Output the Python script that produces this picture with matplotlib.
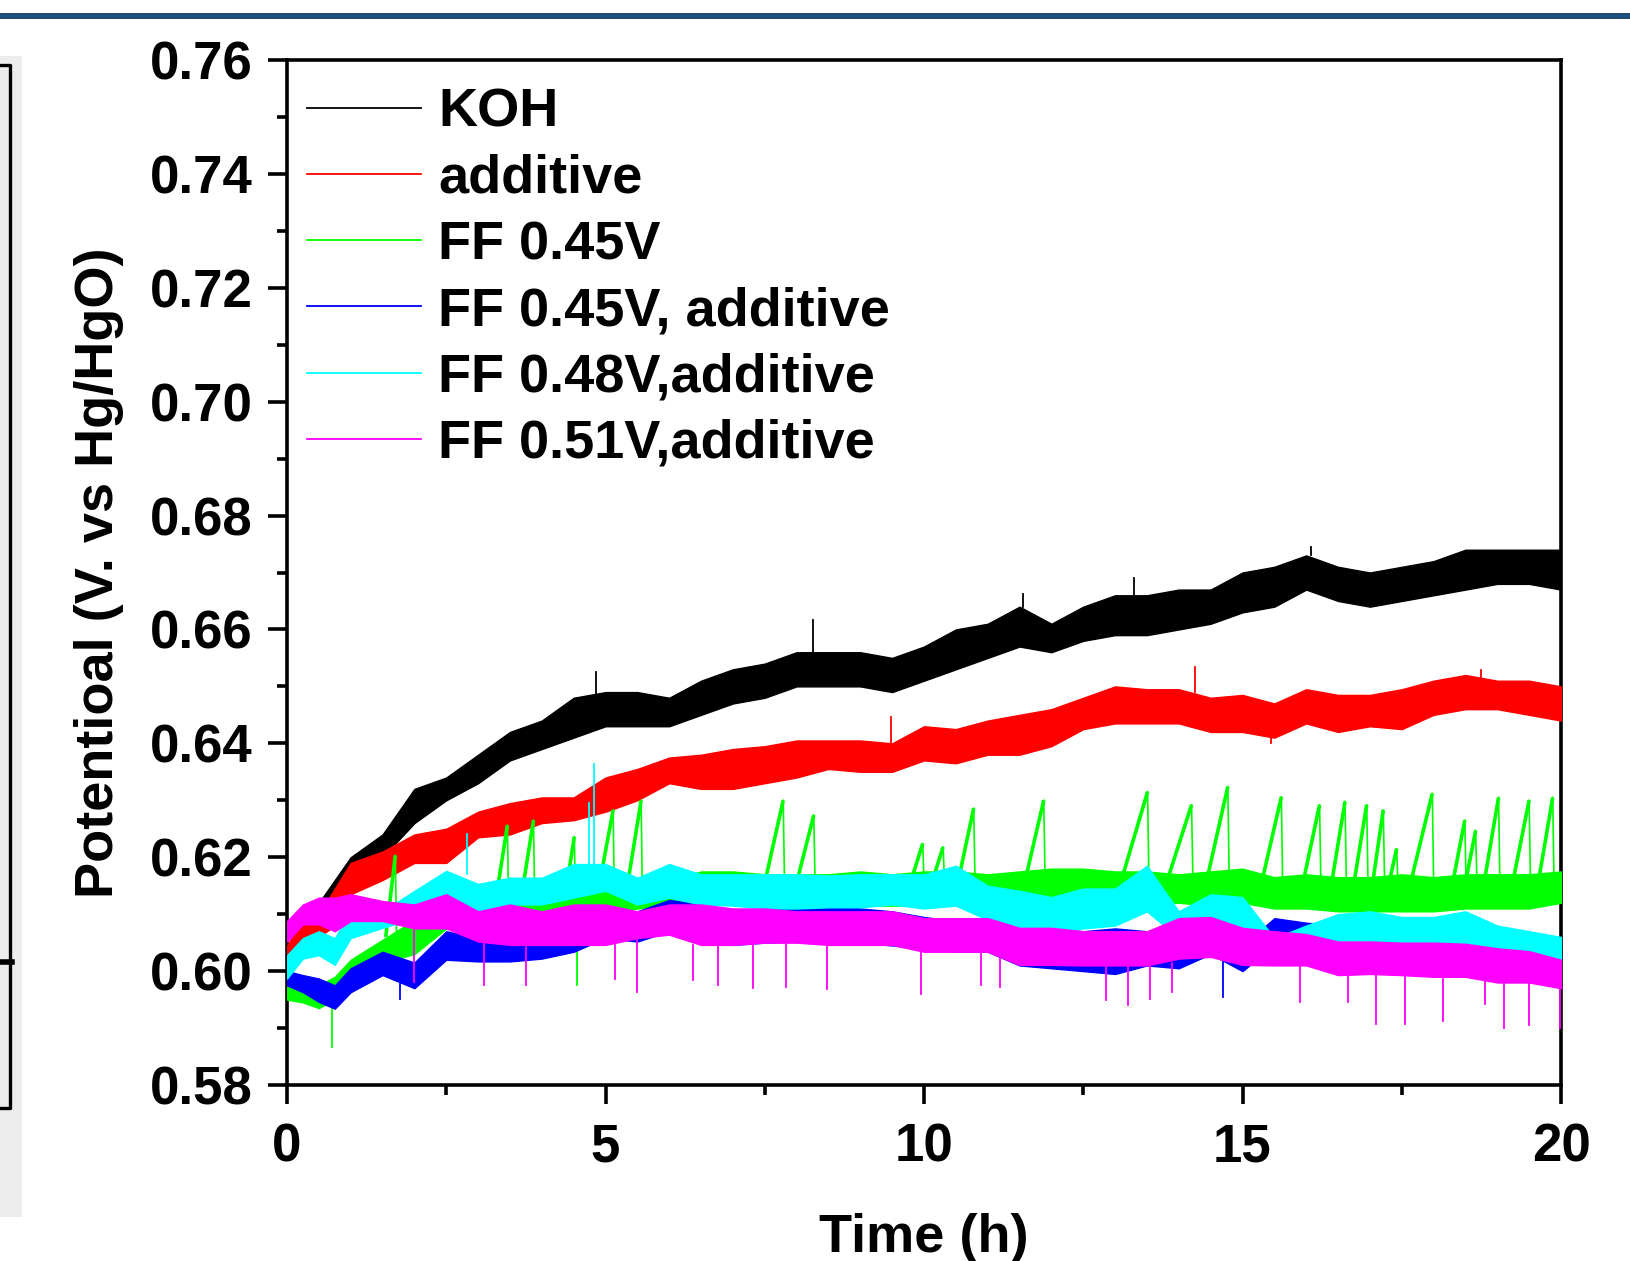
import matplotlib
matplotlib.use("Agg")
import matplotlib.pyplot as plt
from matplotlib.lines import Line2D
from matplotlib.patches import Rectangle
from matplotlib.ticker import MultipleLocator, FormatStrFormatter

plt.rcParams['font.family'] = ['Liberation Sans', 'DejaVu Sans']
plt.rcParams['font.weight'] = 'bold'

# ---------------- data ----------------
labels = ["KOH", "additive", "FF 0.45V", "FF 0.45V, additive",
          "FF 0.48V,additive", "FF 0.51V,additive"]
colors = ["#000000", "#ff0000", "#00ff00", "#0000ff", "#00ffff", "#ff00ff"]

time_h = [0, 0.25, 0.5, 0.75, 1.0, 1.5, 2.0, 2.5, 3.0, 3.5, 4.0, 4.5, 5.0, 5.5,
          6.0, 6.5, 7.0, 7.5, 8.0, 8.5, 9.0, 9.5, 10.0, 10.5, 11.0, 11.5, 12.0,
          12.5, 13.0, 13.5, 14.0, 14.5, 15.0, 15.5, 16.0, 16.5, 17.0, 17.5, 18.0,
          18.5, 19.0, 19.5, 20.0]

# lower / upper edges of the noise band of each trace
koh_lo = [0.600, 0.603, 0.607, 0.611, 0.617, 0.620, 0.626, 0.630, 0.633, 0.637, 0.639,
          0.641, 0.643, 0.643, 0.643, 0.645, 0.647, 0.648, 0.650, 0.650, 0.650, 0.649,
          0.651, 0.653, 0.655, 0.657, 0.656, 0.658, 0.659, 0.659, 0.660, 0.661, 0.663,
          0.664, 0.667, 0.665, 0.664, 0.665, 0.666, 0.667, 0.668, 0.668, 0.667]
koh_hi = [0.604, 0.608, 0.612, 0.616, 0.620, 0.624, 0.632, 0.634, 0.638, 0.642, 0.644,
          0.648, 0.649, 0.649, 0.648, 0.651, 0.653, 0.654, 0.656, 0.656, 0.656, 0.655,
          0.657, 0.660, 0.661, 0.664, 0.661, 0.664, 0.666, 0.666, 0.667, 0.667, 0.670,
          0.671, 0.673, 0.671, 0.670, 0.671, 0.672, 0.674, 0.674, 0.674, 0.674]

add_lo = [0.6025, 0.6055, 0.606, 0.608, 0.6135, 0.616, 0.619, 0.619, 0.6235, 0.624,
          0.626, 0.6265, 0.628, 0.630, 0.633, 0.632, 0.632, 0.633, 0.634, 0.6355, 0.635,
          0.635, 0.637, 0.6365, 0.638, 0.638, 0.6395, 0.6425, 0.6435, 0.6435, 0.6435,
          0.642, 0.642, 0.641, 0.6435, 0.642, 0.643, 0.6425, 0.645, 0.646, 0.646, 0.645,
          0.644]
add_hi = [0.6045, 0.609, 0.610, 0.6145, 0.619, 0.621, 0.624, 0.625, 0.628, 0.6295,
          0.6305, 0.6305, 0.634, 0.6355, 0.6375, 0.638, 0.639, 0.6395, 0.6405, 0.6405,
          0.6405, 0.640, 0.643, 0.6425, 0.644, 0.645, 0.646, 0.648, 0.650, 0.6495, 0.6495,
          0.648, 0.6485, 0.647, 0.6495, 0.6485, 0.6485, 0.6495, 0.651, 0.652, 0.651,
          0.651, 0.650]

ff45_lo = [0.595, 0.5945, 0.5935, 0.595, 0.599, 0.6015, 0.603, 0.6075, 0.6075, 0.609,
           0.6095, 0.610, 0.610, 0.611, 0.6115, 0.6125, 0.613, 0.612, 0.612, 0.612,
           0.6115, 0.6115, 0.6115, 0.612, 0.612, 0.612, 0.6125, 0.612, 0.612, 0.612,
           0.612, 0.6115, 0.612, 0.611, 0.611, 0.6105, 0.6105, 0.6105, 0.6105, 0.611,
           0.611, 0.611, 0.612]
ff45_hi = [0.5985, 0.598, 0.5975, 0.599, 0.602, 0.6055, 0.609, 0.6105, 0.611, 0.6135,
           0.6135, 0.614, 0.6145, 0.615, 0.616, 0.6175, 0.6175, 0.617, 0.617, 0.617,
           0.6175, 0.617, 0.6175, 0.6175, 0.617, 0.6175, 0.618, 0.618, 0.6175, 0.6175,
           0.617, 0.6175, 0.618, 0.6165, 0.617, 0.6165, 0.6165, 0.617, 0.6165, 0.617,
           0.617, 0.617, 0.6175]

ff45a_lo = [0.5975, 0.5963, 0.5946, 0.5934, 0.5963, 0.5993, 0.597, 0.602, 0.6017,
            0.6017, 0.6022, 0.6034, 0.6058, 0.6052, 0.607, 0.6058, 0.6046, 0.605,
            0.6052, 0.6055, 0.605, 0.6045, 0.604, 0.6034, 0.6034, 0.601, 0.6005, 0.600,
            0.5995, 0.601, 0.6005, 0.603, 0.600, 0.6046, 0.604, 0.6025, 0.6025, 0.6025,
            0.602, 0.6025, 0.602, 0.601, 0.600]
ff45a_hi = [0.600, 0.5993, 0.5987, 0.5975, 0.6005, 0.6034, 0.6015, 0.607, 0.6058,
            0.6058, 0.6064, 0.6076, 0.6105, 0.6105, 0.6125, 0.6117, 0.6105, 0.611,
            0.6115, 0.6115, 0.611, 0.6105, 0.6095, 0.6088, 0.609, 0.6076, 0.6075, 0.607,
            0.6075, 0.607, 0.6065, 0.6095, 0.6045, 0.6093, 0.6085, 0.608, 0.608, 0.6075,
            0.6075, 0.608, 0.607, 0.6065, 0.6055]

ff48a_lo = [0.5987, 0.6022, 0.6028, 0.6011, 0.6058, 0.6076, 0.6093, 0.6129, 0.6105,
            0.6117, 0.6117, 0.6129, 0.6141, 0.6117, 0.6129, 0.6117, 0.6115, 0.611,
            0.611, 0.6112, 0.6112, 0.6117, 0.611, 0.6115, 0.609, 0.6076, 0.607, 0.6075,
            0.608, 0.6105, 0.6058, 0.6075, 0.606, 0.6017, 0.6035, 0.605, 0.603, 0.603,
            0.603, 0.6035, 0.6025, 0.6025, 0.602]
ff48a_hi = [0.6028, 0.6058, 0.607, 0.6058, 0.6105, 0.6105, 0.6141, 0.6176, 0.6153,
            0.6164, 0.6164, 0.6188, 0.6188, 0.6164, 0.6188, 0.617, 0.617, 0.617, 0.617,
            0.6168, 0.617, 0.617, 0.617, 0.6185, 0.615, 0.6141, 0.613, 0.6145, 0.6145,
            0.6185, 0.6105, 0.6135, 0.613, 0.6058, 0.608, 0.610, 0.6105, 0.6095, 0.6095,
            0.6105, 0.608, 0.607, 0.606]

ff51a_lo = [0.6052, 0.6082, 0.6082, 0.607, 0.6088, 0.6088, 0.6075, 0.6075, 0.6052,
            0.6046, 0.6046, 0.6046, 0.6046, 0.6058, 0.6064, 0.6046, 0.6046, 0.605,
            0.605, 0.6046, 0.6046, 0.6046, 0.6034, 0.6034, 0.6034, 0.6011, 0.6011,
            0.601, 0.601, 0.601, 0.6022, 0.6025, 0.6011, 0.601, 0.601, 0.5993, 0.5995,
            0.5993, 0.599, 0.599, 0.598, 0.598, 0.597]
ff51a_hi = [0.6088, 0.6117, 0.6129, 0.6129, 0.6135, 0.6123, 0.6117, 0.6135, 0.6105,
            0.6117, 0.6105, 0.6117, 0.6117, 0.6105, 0.6117, 0.6117, 0.611, 0.611,
            0.6105, 0.6105, 0.6105, 0.6105, 0.6093, 0.6093, 0.6093, 0.6076, 0.6076,
            0.607, 0.607, 0.607, 0.6093, 0.6095, 0.6076, 0.607, 0.6065, 0.6052, 0.6052,
            0.605, 0.605, 0.6048, 0.604, 0.6035, 0.602]

band_lo = [koh_lo, add_lo, ff45_lo, ff45a_lo, ff48a_lo, ff51a_lo]
band_hi = [koh_hi, add_hi, ff45_hi, ff45a_hi, ff48a_hi, ff51a_hi]

# sharp single spikes: (time, band value, tip value)
koh_spikes = [(4.85, 0.648, 0.6525), (8.25, 0.656, 0.6617), (11.55, 0.664, 0.6663),
              (16.08, 0.673, 0.6744), (13.3, 0.666, 0.6690)]
add_spikes = [(9.48, 0.640, 0.6446), (14.25, 0.649, 0.6534), (18.75, 0.651, 0.6528),
              (15.45, 0.6415, 0.6401)]
ff45_spikes = [(0.70, 0.595, 0.5866), (4.56, 0.610, 0.5975)]
ff45a_spikes = [(14.70, 0.6035, 0.5955), (1.77, 0.598, 0.5951)]
ff48a_spikes = [(2.83, 0.617, 0.6241), (4.74, 0.618, 0.6295), (4.82, 0.618, 0.6363)]
ff51a_spikes = [(2.0, 0.6075, 0.5981), (3.1, 0.605, 0.5975), (3.75, 0.6046, 0.5975),
                (5.15, 0.6046, 0.5987), (5.5, 0.6058, 0.5963), (6.38, 0.6046, 0.5985),
                (6.76, 0.6046, 0.5975), (7.31, 0.605, 0.5970), (7.84, 0.605, 0.5972),
                (8.47, 0.6046, 0.5969), (9.95, 0.6034, 0.5960), (10.9, 0.6034, 0.5975),
                (11.2, 0.6025, 0.5972), (12.85, 0.601, 0.5949), (13.21, 0.601, 0.5940),
                (13.55, 0.601, 0.5951), (13.9, 0.6015, 0.5963), (15.9, 0.601, 0.5945),
                (16.66, 0.5993, 0.5945), (17.1, 0.5995, 0.5907), (17.55, 0.5993, 0.5907),
                (18.15, 0.599, 0.5913), (18.8, 0.599, 0.5943), (19.1, 0.598, 0.5900),
                (19.5, 0.598, 0.5906), (19.98, 0.597, 0.5900)]
spikes = [koh_spikes, add_spikes, ff45_spikes, ff45a_spikes, ff48a_spikes, ff51a_spikes]

# saw-tooth ramps of the FF 0.45V trace: (start t, start V, peak t, peak V)
ff45_ramps = [(1.55, 0.606, 1.70, 0.6203), (3.25, 0.6105, 3.46, 0.6256),
              (3.65, 0.611, 3.87, 0.6265), (4.35, 0.612, 4.51, 0.6236),
              (4.85, 0.612, 5.12, 0.6283), (5.30, 0.612, 5.56, 0.6300),
              (7.50, 0.6155, 7.79, 0.6300), (8.00, 0.6155, 8.27, 0.6274),
              (9.80, 0.616, 9.98, 0.6224), (10.15, 0.6165, 10.30, 0.6218),
              (10.55, 0.6165, 10.78, 0.6286), (11.60, 0.6165, 11.88, 0.6300),
              (13.10, 0.616, 13.51, 0.6315), (13.85, 0.617, 14.20, 0.6292),
              (14.45, 0.6165, 14.77, 0.6324), (15.30, 0.6155, 15.61, 0.6306),
              (15.95, 0.6155, 16.21, 0.6292), (16.40, 0.6155, 16.61, 0.6298),
              (16.75, 0.6155, 16.95, 0.6292), (17.05, 0.616, 17.21, 0.6283),
              (17.30, 0.6155, 17.42, 0.6215), (17.65, 0.616, 17.98, 0.6312),
              (18.30, 0.6155, 18.49, 0.6265), (18.50, 0.6155, 18.66, 0.6247),
              (18.80, 0.616, 19.02, 0.6305), (19.25, 0.616, 19.50, 0.6300),
              (19.65, 0.616, 19.87, 0.6305)]

x_ticks = [0, 5, 10, 15, 20]
y_ticks = [0.58, 0.60, 0.62, 0.64, 0.66, 0.68, 0.70, 0.72, 0.74, 0.76]

# ---------------- figure ----------------
W, H = 1630, 1261
fig = plt.figure(figsize=(W / 100, H / 100), dpi=100)

# page decorations visible around the chart in the screenshot
fig.add_artist(Rectangle((0, 1 - 19 / H), 1, 6 / H, transform=fig.transFigure,
                         color="#1f4e79", lw=0))
fig.add_artist(Rectangle((0, 1 - 1217 / H), 22 / W, (1217 - 56) / H,
                         transform=fig.transFigure, color="#ececec", lw=0))
fig.add_artist(Line2D([0, 10 / W, 10 / W, 0],
                      [1 - 65 / H, 1 - 65 / H, 1 - 1108 / H, 1 - 1108 / H],
                      transform=fig.transFigure, color="black", lw=2.4))
fig.add_artist(Line2D([2 / W, 12 / W], [1 - 962 / H, 1 - 962 / H],
                      transform=fig.transFigure, color="black", lw=4))

ax = fig.add_axes([287 / W, 1 - 1085 / H, (1561 - 287) / W, (1085 - 60) / H])

for i in range(len(labels)):
    c = colors[i]
    ax.fill_between(time_h, band_lo[i], band_hi[i], color=c, lw=1.0, zorder=2 + i)
    for (t, b, tip) in spikes[i]:
        ax.plot([t, t], [b, tip], color=c, lw=1.3, zorder=2 + i)
    if i == 2:
        for (t0, v0, tp, vp) in ff45_ramps:
            ax.plot([t0, tp], [v0, vp], color=c, lw=2.6, zorder=2 + i,
                    solid_capstyle="butt")
            ax.plot([tp, tp + 0.02], [vp, v0], color=c, lw=1.2, zorder=2 + i)

ax.set_xlim(0, 20)
ax.set_ylim(0.58, 0.76)
ax.set_xticks(x_ticks)
ax.set_yticks(y_ticks)
ax.xaxis.set_minor_locator(MultipleLocator(2.5))
ax.yaxis.set_minor_locator(MultipleLocator(0.01))
ax.yaxis.set_major_formatter(FormatStrFormatter("%.2f"))

for sp in ax.spines.values():
    sp.set_linewidth(2.6)
ax.tick_params(which="major", direction="out", length=14, width=2.6,
               labelsize=38, top=False, right=False)
ax.tick_params(which="minor", direction="out", length=7, width=2.6,
               top=False, right=False)
ax.tick_params(axis="y", which="major", pad=11)
ax.tick_params(axis="x", which="major", pad=13)
for lab in ax.get_xticklabels() + ax.get_yticklabels():
    lab.set_fontweight("bold")

ax.set_xlabel("Time (h)", fontsize=39, fontweight="bold")
ax.set_ylabel("Potentioal (V. vs Hg/HgO)", fontsize=39, fontweight="bold")
ax.xaxis.set_label_coords(0.5, -0.125)
ax.yaxis.set_label_coords(-0.128, 0.5)

handles = [Line2D([0], [0], color=c, lw=1.3) for c in colors]
leg = ax.legend(handles, labels, loc="upper left", bbox_to_anchor=(0.0157, 0.973),
                frameon=False, fontsize=39, handlelength=2.1, handletextpad=0.32,
                labelspacing=0.30, borderpad=0, borderaxespad=0)
for txt in leg.get_texts():
    txt.set_fontweight("bold")

fig.savefig("out.png", dpi=100)
